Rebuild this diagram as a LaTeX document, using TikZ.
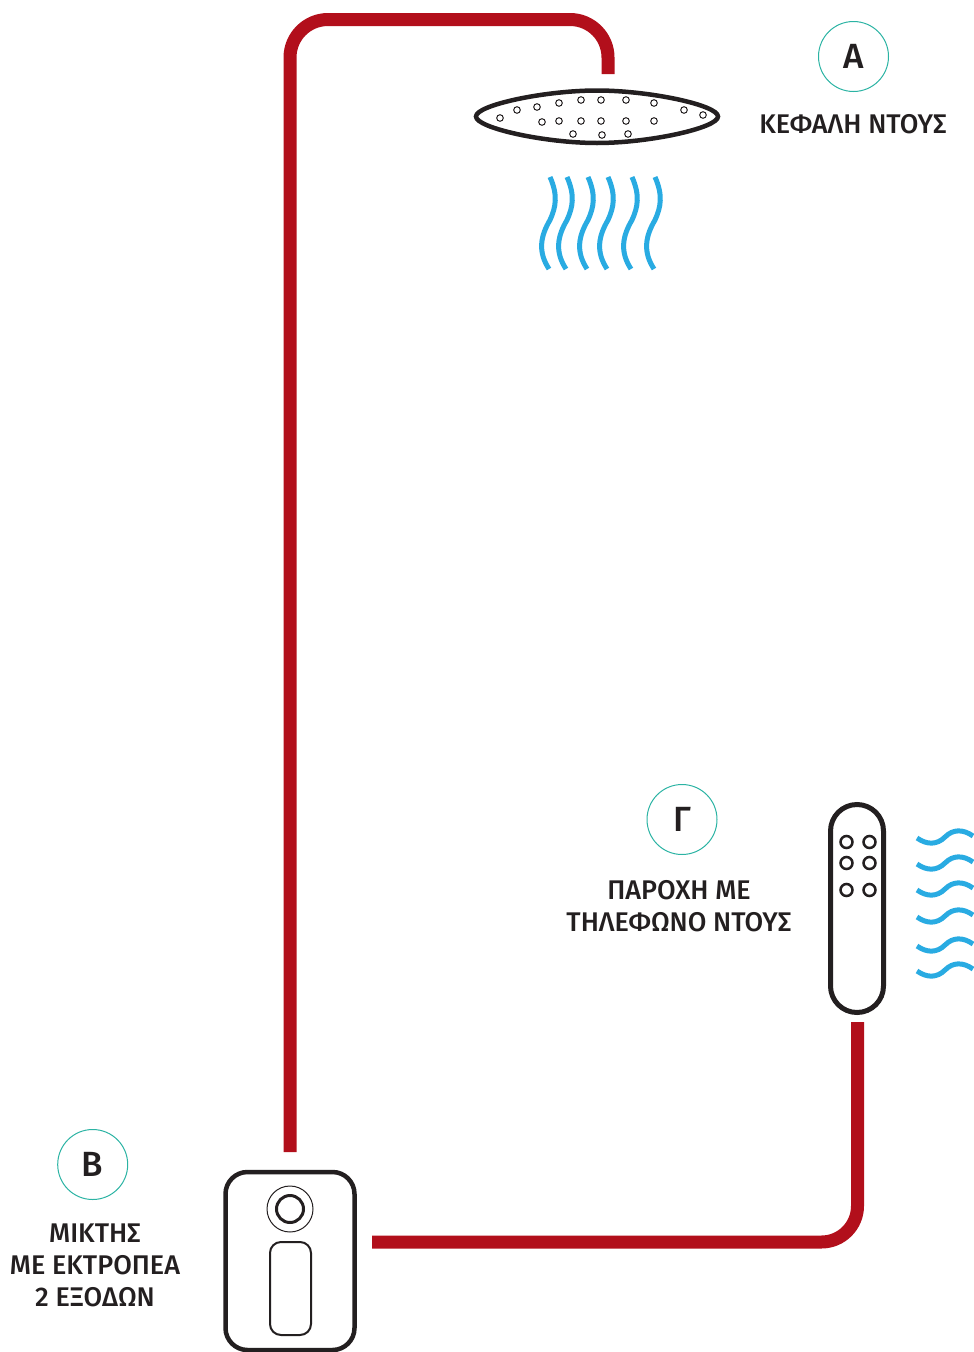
\documentclass[tikz,border=0pt]{standalone}
\usepackage{fontspec}
\usepackage{tikz}
\setmainfont{Fira Sans}
\newfontfamily\capfont{Fira Sans Medium}
\definecolor{pipered}{HTML}{B20F1B}
\definecolor{waterblue}{HTML}{29ABE2}
\definecolor{ringteal}{HTML}{2BB3A3}
\definecolor{darkline}{HTML}{231F20}
\tikzset{
  pipe/.style={line width=13pt,draw=pipered},
  water/.style={line width=5pt,draw=waterblue},
  ring/.style={circle,draw=ringteal,line width=1pt,minimum size=70pt,inner sep=0pt,text=darkline,font=\capfont\fontsize{35}{35}\selectfont},
  caption/.style={align=center,inner sep=0pt,text=darkline,font=\capfont\fontsize{27}{32}\selectfont},
  hole/.style={draw=darkline,line width=1pt},
  knob/.style={draw=darkline,line width=2.5pt}
}
\begin{document}
\begin{tikzpicture}[x=1pt,y=-1pt]
\useasboundingbox (0,0) rectangle (974,1352);
% devices
\node (mixer) [draw=darkline,line width=4.5pt,rounded corners=22pt,minimum width=129pt,minimum height=178pt,inner sep=0pt] at (290,1261) {};
\node (phone) [draw=darkline,line width=5pt,rounded corners=26.5pt,minimum width=53pt,minimum height=208pt,inner sep=0pt] at (857,908.5) {};
\coordinate (headL) at (476,116.5);
\coordinate (headR) at (718,116.5);
\draw[draw=darkline,line width=4.5pt] (headL) .. controls (476,105) and (545,90.5) .. (597,90.5)
  .. controls (649,90.5) and (718,105) .. (headR)
  .. controls (718,128) and (649,143) .. (597,143)
  .. controls (545,143) and (476,128) .. (headL) -- cycle;
\foreach \a/\b in {500/118,517/110,537/107,559/103,581/100,601/100,626/100,654/103,684/110,703/115,
  542/122,559/121,581/121,601/121,626/121,654/121,573/134,602/135,628/134}
  \draw[hole] (\a,\b) circle (3.3);
% mixer parts
\draw[darkline,line width=1pt] (290,1209) circle (23);
\draw[darkline,line width=3pt] (290,1209) circle (13.5);
\draw[darkline,line width=2pt,rounded corners=11pt] (270,1242) rectangle (311,1335);
% phone buttons
\foreach \b in {842,863,890}{
  \draw[knob] (846.5,\b) circle (6);
  \draw[knob] (869.5,\b) circle (6);
}
% pipes
\coordinate (mixerUp) at (290,1152);
\coordinate (headIn) at (608,74);
\coordinate (mixerOut) at (372,1242);
\coordinate (phoneIn) at (857.5,1022);
\draw[pipe,rounded corners=38pt] (mixerUp) -- (290,19.5) -- (608,19.5) -- (headIn);
\draw[pipe,rounded corners=36pt] (mixerOut) -- (857.5,1242) -- (phoneIn);
% water
\foreach \a in {550,567,588,608,632,655}
  \draw[water] (\a,177) .. controls (\a+8,195) and (\a+6,207) .. (\a,220)
    .. controls (\a-10,237) and (\a-12,252) .. (\a-1,269);
\foreach \b in {838,864,890,917,946,971}
  \draw[water] (917,\b) .. controls (927,\b+7) and (937,\b+7) .. (945,\b-1)
    .. controls (953,\b-9) and (963,\b-9) .. (973,\b-2);
% labels
\node (ringA) [ring] at (853.5,56.5) {Α};
\node (ringB) [ring] at (92.7,1164.5) {Β};
\node (ringC) [ring] at (682,819.5) {Γ};
\node (textA) [caption] at (853,124) {ΚΕΦΑΛΗ ΝΤΟΥΣ};
\node (textB) [caption] at (95,1265) {ΜΙΚΤΗΣ\\ΜΕ ΕΚΤΡΟΠΕΑ\\2 ΕΞΟΔΩΝ};
\node (textC) [caption] at (679,906) {ΠΑΡΟΧΗ ΜΕ\\ΤΗΛΕΦΩΝΟ ΝΤΟΥΣ};
\end{tikzpicture}
\end{document}
